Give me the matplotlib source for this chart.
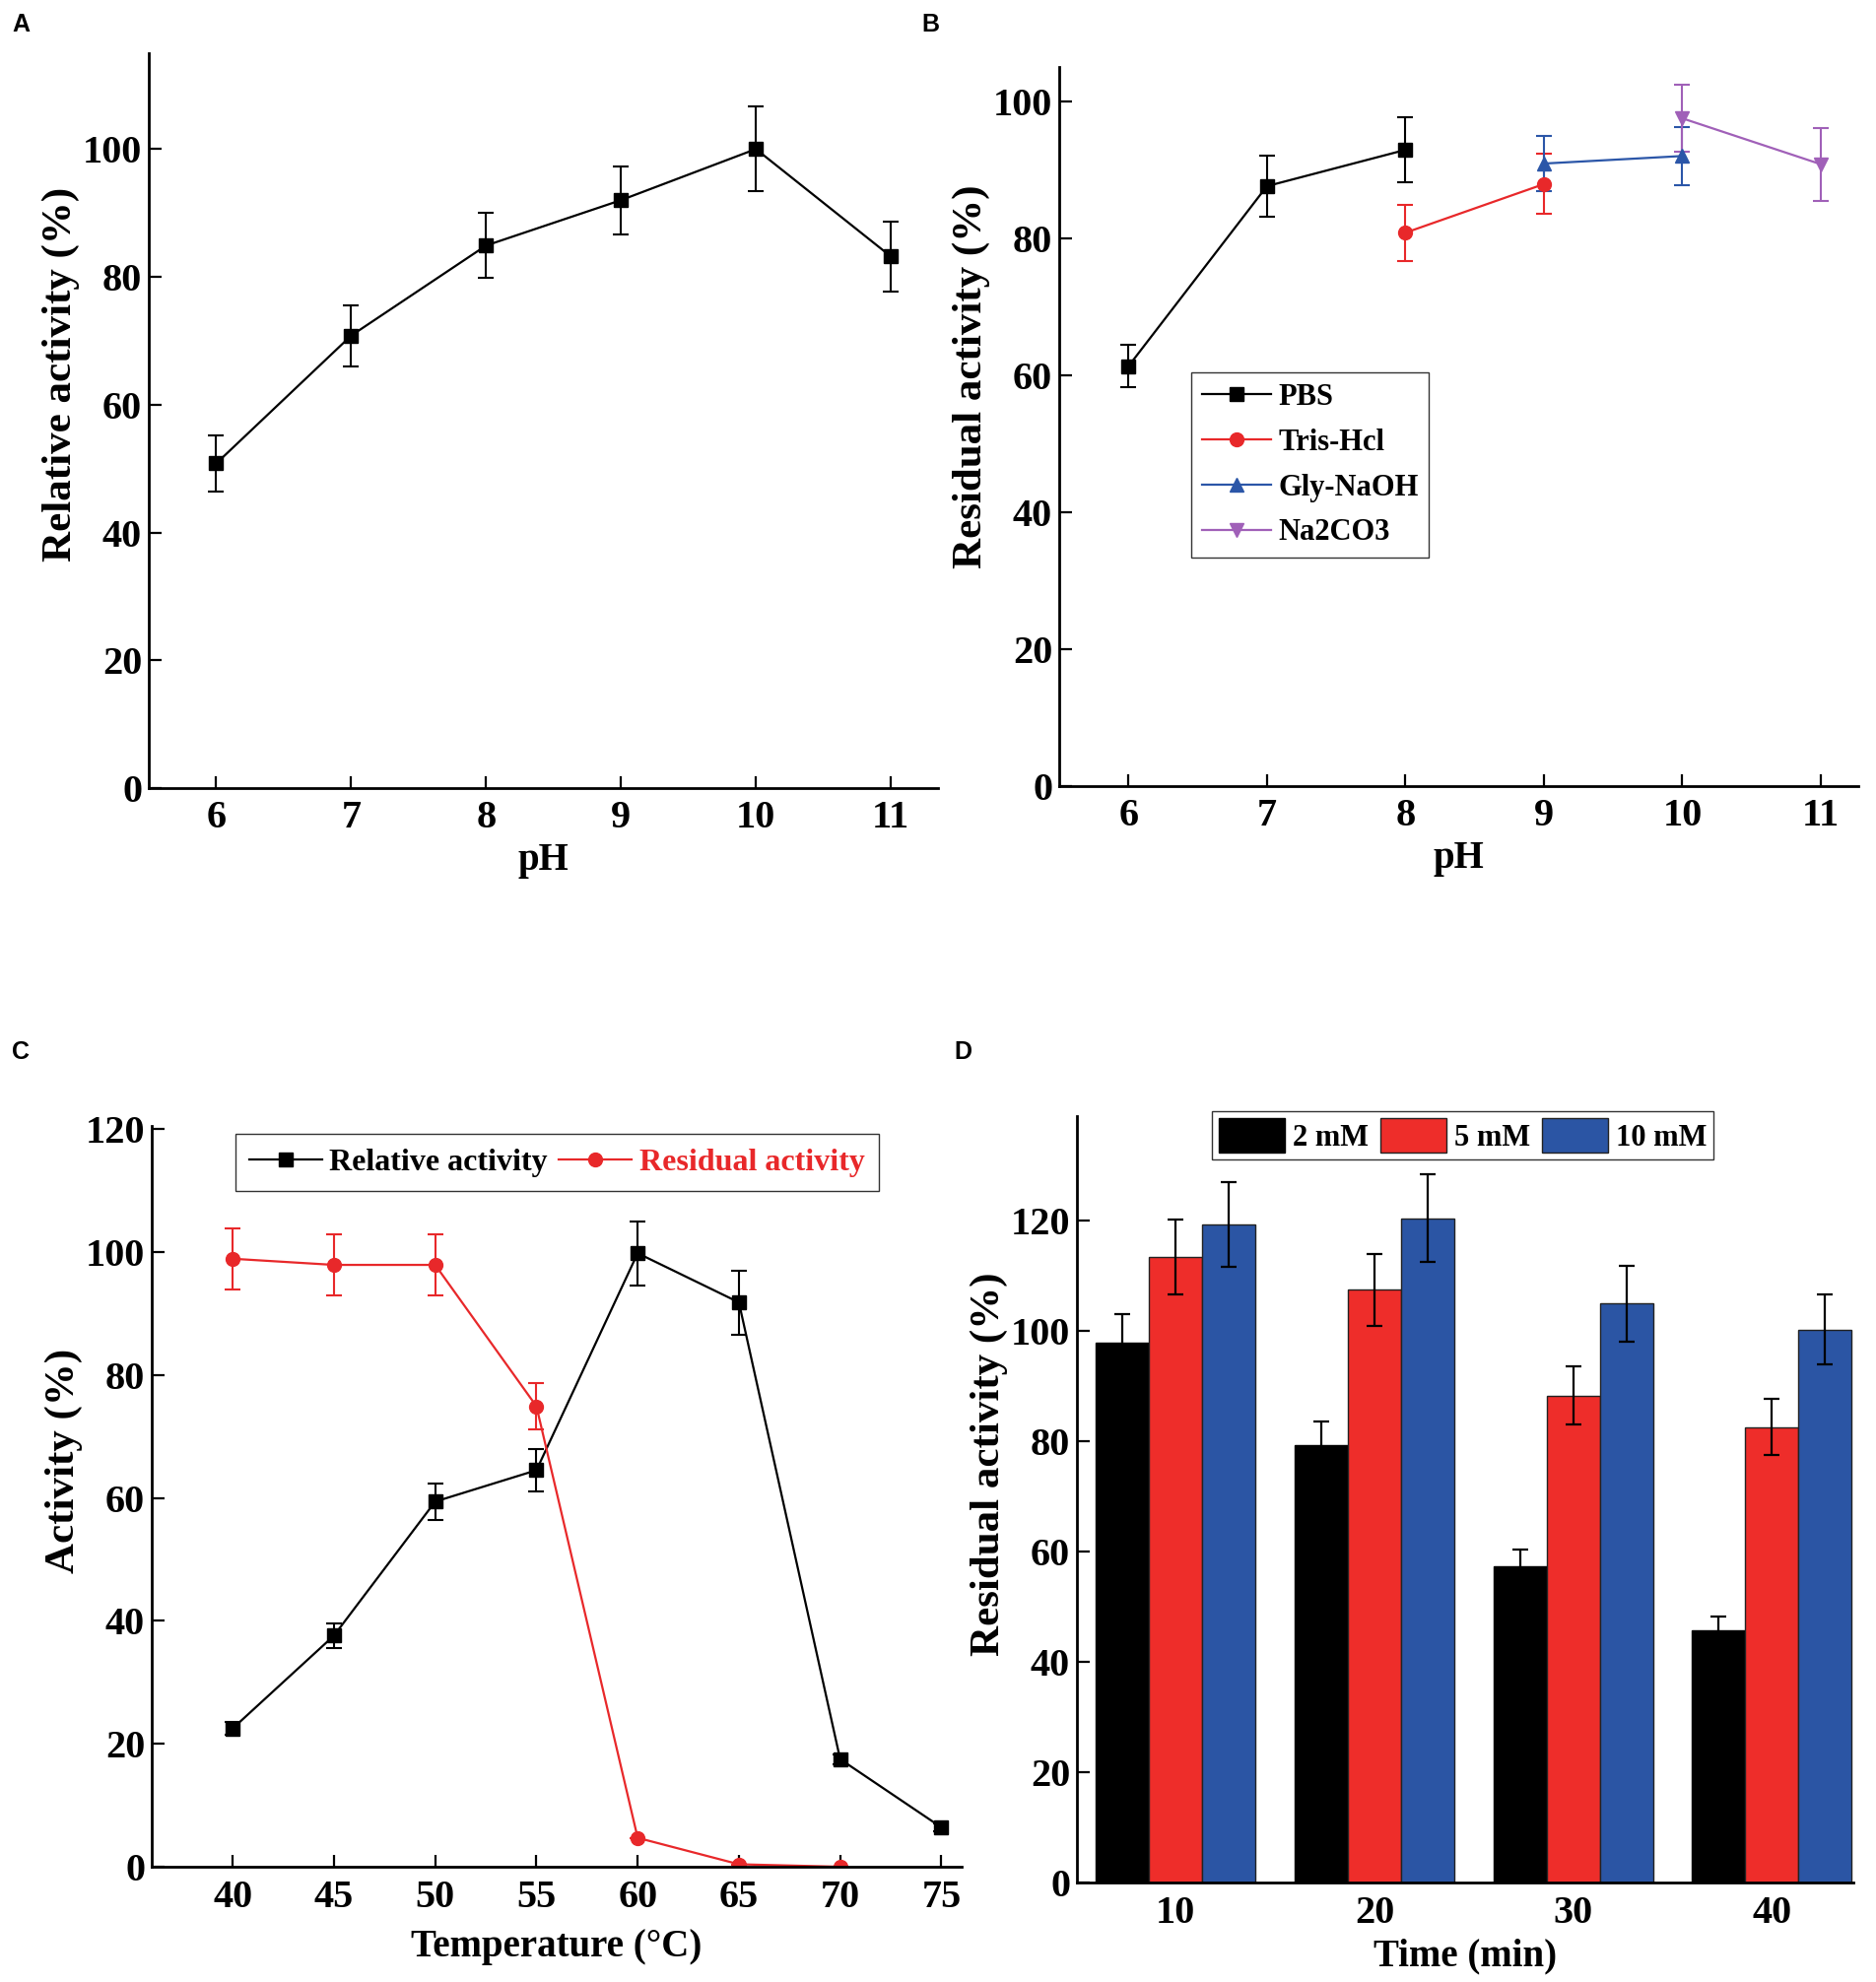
import matplotlib
matplotlib.use("Agg")
import matplotlib.pyplot as plt
import numpy as np

plt.rcParams['font.family'] = ['Liberation Serif', 'DejaVu Serif']
plt.rcParams['font.weight'] = 'bold'
plt.rcParams['axes.labelweight'] = 'bold'

# ---------------- Data ----------------
# Panel A: pH optimum
ph_a = [6, 7, 8, 9, 10, 11]
rel_a = [50.8, 70.8, 84.9, 92.0, 100.0, 83.2]
err_a = [4.4, 4.8, 5.1, 5.3, 6.6, 5.5]

# Panel B: pH stability in different buffers
pbs_ph = [6, 7, 8]
pbs_val = [61.3, 87.6, 92.9]
pbs_err = [3.1, 4.4, 4.8]
tris_ph = [8, 9]
tris_val = [80.8, 87.9]
tris_err = [4.1, 4.4]
gly_ph = [9, 10]
gly_val = [90.9, 92.0]
gly_err = [4.0, 4.2]
na_ph = [10, 11]
na_val = [97.5, 90.8]
na_err = [4.9, 5.3]

# Panel C: temperature
temp_c = [40, 45, 50, 55, 60, 65, 70, 75]
relact_c = [22.5, 37.6, 59.4, 64.5, 99.8, 91.8, 17.5, 6.4]
relact_err = [1.0, 2.0, 3.0, 3.5, 5.2, 5.2, 0.8, 0.6]
temp_res = [40, 45, 50, 55, 60, 65, 70]
resact_c = [98.9, 97.9, 97.9, 74.9, 4.7, 0.4, 0.0]
resact_err = [5.0, 5.0, 5.0, 3.8, 0.0, 0.0, 0.0]

# Panel D: residual activity vs time at different concentrations
time_labels = ['10', '20', '30', '40']
conc_labels = ['2 mM', '5 mM', '10 mM']
d_2mM = [97.9, 79.4, 57.3, 45.8]
d_2mM_err = [5.2, 4.2, 3.0, 2.4]
d_5mM = [113.4, 107.5, 88.3, 82.6]
d_5mM_err = [6.8, 6.5, 5.3, 5.1]
d_10mM = [119.4, 120.5, 105.0, 100.3]
d_10mM_err = [7.7, 8.0, 6.9, 6.4]

# ---------------- Style ----------------
RED = '#E8282A'
BLUE = '#2B56A8'
PURPLE = '#A060B8'
BAR_RED = '#EE2D2A'
BAR_BLUE = '#2B55A4'

TICK_FS = 29
LABEL_FS = 28
YLABEL_FS = 31
LEG_FS = 22

W, H = 1904, 2012
fig = plt.figure(figsize=(W / 100, H / 100), dpi=100)


def ax_at(left, top, right, bottom):
    return fig.add_axes([left / W, 1 - bottom / H, (right - left) / W, (bottom - top) / H])


def style(ax, ylab_y):
    for s in ['top', 'right']:
        ax.spines[s].set_visible(False)
    for s in ['left', 'bottom']:
        ax.spines[s].set_linewidth(2.0)
    ax.tick_params(direction='in', length=9, width=1.6, labelsize=TICK_FS)
    ax.tick_params(axis='x', pad=9)
    ax.tick_params(axis='y', pad=5)
    for lab in ax.get_xticklabels() + ax.get_yticklabels():
        lab.set_fontweight('bold')
    ax.yaxis.label.set_y(ylab_y)


eb_kw = dict(capsize=6, elinewidth=1.5, capthick=1.5, lw=1.6, markersize=10)

# ---------------- Panel A ----------------
axA = ax_at(151, 54, 952, 800)
axA.errorbar(ph_a, rel_a, yerr=err_a, color='black', marker='s', **eb_kw)
axA.set_xlim(5.5, 11.35)
axA.set_ylim(0, 115)
axA.set_xticks(ph_a)
axA.set_yticks(np.arange(0, 101, 20))
axA.set_xlabel('pH', fontsize=LABEL_FS, labelpad=4)
axA.set_ylabel('Relative activity (%)', fontsize=YLABEL_FS, labelpad=2)
style(axA, 0.563)

# ---------------- Panel B ----------------
axB = ax_at(1075, 68, 1886, 798)
axB.errorbar(pbs_ph, pbs_val, yerr=pbs_err, color='black', marker='s', label='PBS', **eb_kw)
axB.errorbar(tris_ph, tris_val, yerr=tris_err, color=RED, marker='o', label='Tris-Hcl', **eb_kw)
axB.errorbar(gly_ph, gly_val, yerr=gly_err, color=BLUE, marker='^', label='Gly-NaOH', **eb_kw)
axB.errorbar(na_ph, na_val, yerr=na_err, color=PURPLE, marker='v', label='Na2CO3', **eb_kw)
axB.set_xlim(5.5, 11.27)
axB.set_ylim(0, 105)
axB.set_xticks([6, 7, 8, 9, 10, 11])
axB.set_yticks(np.arange(0, 101, 20))
axB.set_xlabel('pH', fontsize=LABEL_FS, labelpad=4)
axB.set_ylabel('Residual activity (%)', fontsize=YLABEL_FS, labelpad=2)
style(axB, 0.57)
handles, labels = axB.get_legend_handles_labels()
handles = [h[0] for h in handles]
legB = axB.legend(handles, labels, loc='upper left', bbox_to_anchor=(0.165, 0.575),
                  borderaxespad=0, fontsize=LEG_FS, frameon=True, fancybox=False,
                  edgecolor='black', handlelength=2.3, handletextpad=0.25,
                  labelspacing=0.55, borderpad=0.35)
legB.get_frame().set_linewidth(1.0)

# ---------------- Panel C ----------------
axC = ax_at(154, 1143, 976, 1895)
axC.errorbar(temp_c, relact_c, yerr=relact_err, color='black', marker='s',
             label='Relative activity', **eb_kw)
axC.errorbar(temp_res, resact_c, yerr=resact_err, color=RED, marker='o',
             label='Residual activity', **eb_kw)
axC.set_xlim(36, 76)
axC.set_ylim(0, 120.5)
axC.set_xticks(np.arange(40, 76, 5))
axC.set_yticks(np.arange(0, 121, 20))
axC.set_xlabel('Temperature (°C)', fontsize=LABEL_FS, labelpad=10)
axC.set_ylabel('Activity (%)', fontsize=YLABEL_FS, labelpad=2)
style(axC, 0.548)
handles, labels = axC.get_legend_handles_labels()
handles = [h[0] for h in handles]
legC = axC.legend(handles, labels, loc='upper left', bbox_to_anchor=(0.103, 0.989),
                  borderaxespad=0, ncol=2, fontsize=23, frameon=True,
                  fancybox=False, edgecolor='black', handlelength=2.3,
                  handletextpad=0.25, columnspacing=0.35, borderpad=0.45)
legC.get_frame().set_linewidth(1.0)
legC.get_texts()[1].set_color(RED)

# ---------------- Panel D ----------------
axD = ax_at(1093, 1133, 1881, 1911)
x = np.arange(len(time_labels))
bw = 0.268
axD.bar(x - bw, d_2mM, bw, color='black', edgecolor='black', lw=1.0, label=conc_labels[0])
axD.bar(x, d_5mM, bw, color=BAR_RED, edgecolor='#222222', lw=1.0, label=conc_labels[1])
axD.bar(x + bw, d_10mM, bw, color=BAR_BLUE, edgecolor='#222222', lw=1.0, label=conc_labels[2])
ekw = dict(fmt='none', ecolor='black', elinewidth=1.6, capsize=6, capthick=1.6)
axD.errorbar(x - bw, d_2mM, yerr=d_2mM_err, **ekw)
axD.errorbar(x, d_5mM, yerr=d_5mM_err, **ekw)
axD.errorbar(x + bw, d_10mM, yerr=d_10mM_err, **ekw)
axD.set_xlim(-0.497, 3.41)
axD.set_ylim(0, 139)
axD.set_xticks(x)
axD.set_xticklabels(time_labels)
axD.set_yticks(np.arange(0, 121, 20))
axD.set_xlabel('Time (min)', fontsize=LABEL_FS, labelpad=5)
axD.set_ylabel('Residual activity (%)', fontsize=YLABEL_FS, labelpad=2)
style(axD, 0.546)
axD.tick_params(axis='x', length=0)
legD = axD.legend(loc='upper left', bbox_to_anchor=(0.174, 1.006), borderaxespad=0,
                  ncol=3, fontsize=LEG_FS, frameon=True, fancybox=False,
                  edgecolor='black', handlelength=2.2, handleheight=1.4,
                  handletextpad=0.25, columnspacing=0.4, borderpad=0.22)
legD.get_frame().set_linewidth(1.0)

# ---------------- Panel letters ----------------
for lbl, px, py in [('A', 12, 13), ('B', 935, 13), ('C', 12, 1056), ('D', 968, 1056)]:
    fig.text(px / W, 1 - py / H, lbl, fontsize=18, fontweight='bold',
             family='Liberation Sans', va='top', ha='left')

fig.savefig('out.png', dpi=100, facecolor='white')
